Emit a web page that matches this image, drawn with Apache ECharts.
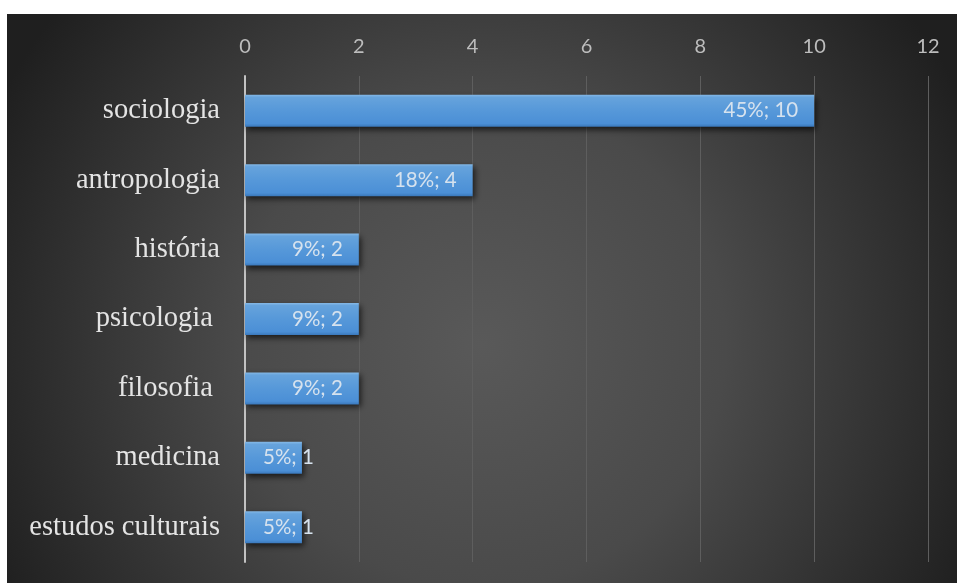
<!DOCTYPE html>
<html>
<head>
<meta charset="utf-8">
<script src="https://cdn.jsdelivr.net/npm/echarts@6/dist/echarts.min.js"></script>
<style>
  html, body { margin: 0; padding: 0; background: #ffffff; }
  #chart { position: absolute; left: 7px; top: 14px; width: 950px; height: 569px; }
</style>
</head>
<body>
<div id="chart"></div>
<script>
// Disciplines, number of works and share of the total
const categories = ['sociologia', 'antropologia', 'história', 'psicologia ', 'filosofia ', 'medicina', 'estudos culturais'];
const counts = [10, 4, 2, 2, 2, 1, 1];
const shares = [45, 18, 9, 9, 9, 5, 5];
const axisMin = 0;
const axisMax = 12;
const axisStep = 2;

const barFill = new echarts.graphic.LinearGradient(0, 0, 0, 1, [
  { offset: 0, color: '#86b9e6' },
  { offset: 0.08, color: '#66a3dc' },
  { offset: 0.5, color: '#5698d9' },
  { offset: 0.9, color: '#4b8fd6' },
  { offset: 1, color: '#3a78bb' }
]);

const barData = counts.map(function (v, i) {
  const item = { value: v };
  if (v < 2) {
    // too short for the label to sit at the end: start it from the bar's base
    item.label = { position: 'insideLeft', distance: 18 };
  }
  return item;
});

const chart = echarts.init(document.getElementById('chart'));
chart.setOption({
  backgroundColor: {
    type: 'radial', x: 0.5, y: 0.58, r: 0.95,
    colorStops: [
      { offset: 0, color: '#595959' },
      { offset: 0.45, color: '#4a4a4a' },
      { offset: 1, color: '#1f1f1f' }
    ]
  },
  animation: false,
  grid: { left: 238, right: 29, top: 62, bottom: 21 },
  xAxis: {
    type: 'value',
    position: 'top',
    min: axisMin,
    max: axisMax,
    interval: axisStep,
    axisLine: { show: false },
    axisTick: { show: false },
    axisLabel: { color: '#bdbdbd', fontFamily: 'Lato', fontSize: 20, margin: 19 },
    splitLine: { lineStyle: { color: '#5e5e5e', width: 1 } }
  },
  yAxis: {
    type: 'category',
    inverse: true,
    data: categories,
    axisLine: { show: true, lineStyle: { color: '#c2c2c2', width: 2 } },
    axisTick: { show: false },
    axisLabel: {
      color: '#e4e4e4', fontFamily: 'Liberation Serif', fontSize: 28.5, margin: 25,
      padding: [5, 0, 0, 0]
    }
  },
  series: [{
    type: 'bar',
    data: barData,
    barWidth: 32,
    itemStyle: {
      color: barFill,
      shadowColor: 'rgba(0,0,0,0.65)',
      shadowBlur: 6,
      shadowOffsetX: 2,
      shadowOffsetY: 3
    },
    label: {
      show: true,
      position: 'insideRight',
      distance: 16,
      color: '#d6e2ee',
      fontFamily: 'Lato',
      fontSize: 20.5,
      formatter: function (p) { return shares[p.dataIndex] + '%; ' + p.value; }
    }
  }]
});
</script>
</body>
</html>
